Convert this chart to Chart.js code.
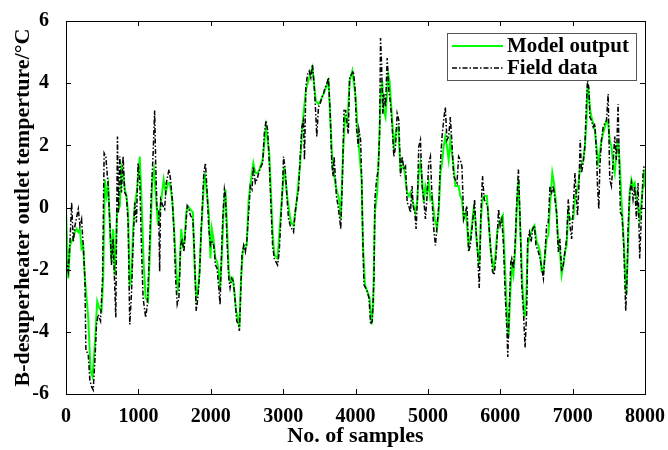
<!DOCTYPE html>
<html>
<head>
<meta charset="utf-8">
<script src="https://cdn.jsdelivr.net/npm/chart.js@4.4.1/dist/chart.umd.min.js"></script>
<style>
  html, body { margin:0; padding:0; background:#fff; }
  #wrap { width:668px; height:450px; position:relative; }
</style>
</head>
<body>
<div id="wrap"><canvas id="chart" width="668" height="450"></canvas></div>
<script>
  // samples / values
  const fieldX = [0,32,55,78,101,124,170,192,215,238,261,275,307,330,353,376,399,422,445,477,505,527,550,583,606,628,651,688,711,725,743,766,789,812,835,858,881,904,927,950,973,996,1019,1042,1065,1101,1124,1147,1179,1202,1225,1239,1257,1280,1294,
    1308,1340,1363,1386,1423,1445,1468,1491,1514,1537,1560,1583,1606,1629,1652,1675,1698,1721,1753,1776,1799,1822,1845,1868,1882,1904,1927,1950,1973,1996,2019,2042,2065,2088,2111,2129,2143,2166,2189,2203,2226,2249,2267,2290,2313,2341,2359,2382,2396,2414,2432,2455,2478,2497,2524,2547,2570,2588,2616,2639,2662,
    2694,2717,2740,2763,2786,2809,2832,2855,2878,2901,2923,2946,2969,2992,3006,3029,3052,3075,3098,3121,3144,3167,3190,3213,3236,3259,3281,3295,3314,3337,3360,3383,3405,3428,3451,3465,3488,3511,3534,3557,3580,3603,3626,3649,3672,3690,3704,3718,3736,3759,3782,3796,3819,3841,3864,3887,3901,3919,3947,3970,3993,4016,4039,
    4048,4071,4085,4103,4117,4140,4163,4186,4209,4232,4255,4268,4291,4314,4333,4346,4360,4378,4392,4415,4438,4461,4484,4507,4530,4553,4576,4599,4622,4645,4668,4691,4714,4737,4759,4782,4796,4819,4837,4856,4874,4897,4920,4943,4966,4989,5012,5035,5058,5081,5104,5127,5150,5173,5196,5218,5241,5264,5287,5310,5333,5356,5379,5402,
    5425,5448,5471,5494,5517,5540,5563,5586,5609,5632,5645,5664,5687,5710,5733,5755,5778,5801,5824,5847,5870,5893,5916,5939,5962,5976,5999,6022,6045,6068,6091,6104,6123,6146,6159,6182,6205,6228,6251,6274,6297,6320,6343,6366,6380,6403,6426,6449,6472,6494,6527,6550,6573,6596,6619,6641,6664,6687,6710,6733,6756,6779,
    6802,6825,6848,6871,6894,6917,6940,6963,6986,7009,7032,7054,7068,7087,7105,7123,7146,7169,7192,7206,7224,7238,7261,7284,7307,7330,7344,7362,7376,7399,7422,7445,7468,7491,7513,7536,7559,7582,7605,7628,7642,7660,7683,7706,7720,7734,7752,7766,7789,7812,7835,7858,7881,7904,7927,7950,7973,7986];
  const fieldY = [-1.64,-2.06,-1.11,0.16,-1.11,-0.58,-0.05,-0.58,-0.37,-1.22,-2.28,-4.60,-4.71,-5.56,-5.77,-5.87,-4.92,-3.76,-3.44,-3.65,-2.28,1.75,1.64,0.69,-0.48,-1.85,-1.01,-3.54,2.28,-0.16,1.64,0.48,1.64,0.48,0.37,-0.48,-3.76,-2.80,-1.22,0.16,-0.48,1.43,0.90,-1.22,-2.91,-3.54,-3.12,-1.75,0.48,1.64,3.12,1.43,-0.05,-0.05,-2.06,
    0.26,0.05,-0.05,0.79,1.22,0.90,0.26,-0.69,-2.28,-3.12,-2.91,-1.22,-1.01,-1.43,-0.69,0.05,-0.05,-0.26,-0.37,-1.53,-3.33,-2.91,-2.17,-0.69,-0.05,1.11,1.43,0.48,-0.69,-1.22,-1.11,-1.22,-1.85,-1.96,-2.59,-3.12,-1.85,-0.37,0.58,0.37,-1.11,-2.28,-2.59,-2.28,-2.38,-3.12,-3.65,-3.76,-3.97,-2.70,-1.53,-1.22,-1.43,-1.11,-0.16,0.69,0.58,1.32,0.79,0.90,1.11,
    1.32,1.43,2.38,2.80,2.49,1.43,0.05,-1.22,-1.64,-1.75,-1.85,-1.43,-0.37,0.69,1.64,1.22,0.37,-0.37,-0.58,-0.69,-0.79,-0.16,0.26,0.58,1.64,2.59,2.80,1.53,3.86,4.29,4.39,4.18,4.60,3.97,3.02,2.28,3.23,3.33,3.54,3.65,3.86,3.97,4.18,3.12,1.43,1.01,1.64,1.11,0.37,0.05,-0.37,-0.69,0.90,3.12,3.12,2.59,2.38,4.18,4.29,4.39,3.86,2.49,1.96,
    2.49,2.17,0.90,-1.22,-2.49,-2.59,-2.70,-2.91,-3.76,-3.65,-2.28,0.26,0.90,1.22,2.38,5.45,4.60,3.02,3.65,3.23,4.81,3.76,3.33,2.59,1.64,1.96,3.02,2.80,1.01,1.64,1.22,1.32,0.16,0.05,-0.16,0.69,0.05,-0.16,-0.69,0.26,1.96,2.17,0.69,0.26,-0.37,0.37,1.43,1.64,0.26,-0.69,-1.22,-0.58,0.05,1.43,2.28,2.80,3.23,2.17,2.28,2.91,2.06,1.01,0.90,0.79,
    1.64,1.53,1.32,-0.37,-0.16,0.05,-1.43,-1.22,-0.69,-0.16,0.26,-0.69,-1.43,-2.59,-0.16,1.01,0.26,0.16,0.05,-0.69,-1.43,-2.06,-2.17,-1.64,-0.79,-0.05,-0.58,-0.37,-1.22,-2.80,-3.86,-4.81,-3.33,-1.75,-1.64,-1.96,-1.22,0.16,1.22,-0.37,-2.49,-3.33,-4.50,-3.33,-1.01,-0.79,-1.11,-0.69,-0.58,-1.22,-1.43,-1.64,-1.96,-2.28,-1.43,-0.58,-0.48,0.69,0.48,0.69,0.26,-0.16,
    -1.43,-1.01,-2.06,-1.85,-1.43,-1.01,0.26,-0.58,-1.01,0.05,1.11,0.26,-0.26,0.69,2.17,1.11,1.43,1.96,3.44,4.07,3.86,2.91,2.80,2.59,2.70,1.75,0.69,-0.05,1.32,2.17,2.59,2.70,2.80,3.65,0.90,0.69,1.43,2.28,1.53,3.33,1.75,-0.16,-0.26,-1.22,-2.28,-3.33,-2.28,-0.69,0.48,0.79,0.26,0.69,-0.37,0.79,-1.64,-0.26,1.11,1.32];

  const modelX = [0,32,55,92,124,147,170,192,215,238,261,307,339,367,399,431,459,491,514,537,560,583,606,628,651,674,706,743,766,789,812,835,858,881,904,927,950,982,1019,1042,1074,1101,1133,1156,1193,1216,1248,1271,1294,
    1317,1349,1377,1409,1432,1468,1501,1524,1546,1569,1592,1615,1638,1661,1684,1716,1753,1776,1799,1822,1845,1868,1891,1914,1937,1973,1996,2015,2038,2065,2088,2111,2129,2152,2180,2203,2226,2249,2272,2304,2327,2350,2373,2396,2419,2442,2464,2497,2524,2556,2588,2616,2648,
    2671,2717,2763,2809,2855,2878,2923,2969,3015,3061,3107,3144,3190,3236,3268,3314,3360,3405,3451,3488,3520,3557,3603,3626,3649,3681,3727,3773,3796,3828,3855,3887,3919,3956,4002,4039,
    4048,4085,4103,4131,4163,4195,4222,4245,4268,4300,4323,4346,4369,4392,4415,4452,4470,4507,4530,4562,4590,4622,4668,4714,4737,4759,4782,4805,4828,4851,4874,4897,4920,4943,4966,4989,5012,5035,5058,5094,5127,5150,5173,5196,5218,5241,5264,5287,5310,5333,5356,5379,
    5425,5448,5471,5494,5526,5563,5599,5632,5655,5678,5710,5733,5755,5783,5815,5838,5870,5907,5930,5962,5985,6013,6036,6068,6091,6114,6136,6159,6182,6205,6228,6251,6283,6306,6334,6357,6380,6412,6444,6472,6504,6527,6550,6573,6596,6619,6641,6664,6687,6719,6742,6765,
    6802,6825,6848,6871,6894,6917,6940,6963,7009,7032,7054,7077,7100,7146,7169,7192,7206,7224,7243,7261,7284,7307,7330,7353,7376,7399,7422,7445,7468,7491,7513,7536,7559,7582,7605,7628,7651,7674,7697,7720,7743,7766,7789,7812,7835,7858,7881,7904,7927,7950,7973,7986];
  const modelY = [-0.05,-2.28,-1.22,-1.01,-0.79,-0.69,-0.79,-0.69,-1.32,-1.22,-2.28,-3.54,-5.24,-5.45,-4.39,-3.02,-3.23,-3.33,-2.28,0.90,0.37,0.69,-0.58,-1.75,-0.69,-2.17,-0.16,0.05,1.32,1.11,0.58,0.37,-0.16,-2.49,-2.28,-0.69,0.05,0.58,1.64,0.37,-1.85,-2.91,-3.02,-1.64,0.90,1.22,0.16,-0.58,-0.16,
    0.26,0.90,0.48,0.79,0.79,0.26,-1.01,-2.06,-2.59,-2.17,-0.69,-1.22,-1.11,-0.16,0.05,-0.05,-0.16,-1.85,-2.91,-2.70,-2.06,-0.79,0.16,1.11,0.69,-0.16,-1.64,-0.69,-1.01,-1.64,-1.75,-2.06,-2.59,-1.64,0.05,0.58,-0.69,-2.06,-2.38,-2.28,-2.70,-3.33,-3.54,-3.86,-2.28,-1.43,-1.22,-1.22,0.26,0.90,1.43,1.11,1.11,
    1.22,1.53,2.59,1.75,-0.79,-1.53,-1.64,-0.16,1.32,0.26,-0.48,-0.58,0.26,1.43,2.70,3.76,4.18,4.50,3.44,3.33,3.44,3.65,3.92,4.07,3.02,1.43,0.69,0.26,-0.37,1.75,2.91,2.70,4.07,4.39,3.54,2.17,
    2.17,0.90,-1.22,-2.49,-2.70,-2.91,-3.76,-3.12,-0.16,0.48,1.75,3.54,4.07,3.12,2.91,4.29,4.07,2.80,1.96,2.49,2.59,1.22,1.32,0.48,0.37,0.48,0.26,0.05,-0.16,0.16,1.11,1.43,0.90,0.16,0.69,0.48,0.79,0.26,0.37,-0.37,-0.69,-0.16,1.11,1.43,1.96,2.28,1.96,1.53,2.17,1.75,1.32,0.69,
    0.69,0.37,0.26,-0.37,-0.16,-1.22,-0.79,-0.05,-0.37,-1.22,-1.85,-0.37,0.26,0.37,0.37,-0.37,-1.43,-1.96,-1.64,-0.69,-0.48,-0.37,-0.26,-2.06,-3.33,-4.18,-2.91,-1.85,-2.17,-1.43,-0.05,0.90,-1.01,-2.49,-3.54,-3.12,-1.22,-0.90,-0.69,-0.58,-1.11,-1.22,-1.43,-2.06,-2.06,-1.53,-1.01,-0.90,0.05,1.11,0.79,0.26,
    -1.11,-1.43,-2.17,-1.85,-1.43,-1.22,-0.16,-0.37,-0.37,0.26,0.48,0.69,1.22,1.53,1.96,2.80,3.97,3.65,3.12,2.91,2.70,2.49,1.96,1.43,1.75,2.17,2.38,2.59,2.80,2.70,2.17,1.96,1.43,1.11,1.75,2.17,1.43,0.26,-0.69,-1.75,-2.80,-1.22,0.48,0.90,0.69,0.79,0.26,0.05,-0.37,0.16,0.69,1.22];

  const xTicks = [0,1000,2000,3000,4000,5000,6000,7000,8000];
  const yTicks = [-6,-4,-2,0,2,4,6];
  const seriesNames = ['Model output','Field data'];

  const serif = "'Liberation Serif', 'Times New Roman', serif";

  const framePlugin = {
    id:'frame',
    afterDatasetsDraw(chart){
      const {ctx, chartArea:a, scales:{x, y}} = chart;
      ctx.save();
      ctx.strokeStyle = '#000';
      ctx.lineWidth = 1;
      ctx.setLineDash([]);
      ctx.strokeRect(a.left + 0.5, a.top + 0.5, a.right - a.left, a.bottom - a.top);
      ctx.beginPath();
      const t = 5;
      xTicks.forEach(v => {
        const px = Math.round(x.getPixelForValue(v)) + 0.5;
        ctx.moveTo(px, a.bottom); ctx.lineTo(px, a.bottom - t);
        ctx.moveTo(px, a.top); ctx.lineTo(px, a.top + t);
      });
      yTicks.forEach(v => {
        const py = Math.round(y.getPixelForValue(v)) + 0.5;
        ctx.moveTo(a.left, py); ctx.lineTo(a.left + t, py);
        ctx.moveTo(a.right, py); ctx.lineTo(a.right - t, py);
      });
      ctx.stroke();

      // legend box, top right inside the axes
      const ds = chart.data.datasets;
      const bx = 447, by = 33, bw = 189, bh = 47;
      ctx.fillStyle = '#fff';
      ctx.fillRect(bx, by, bw, bh);
      ctx.strokeStyle = '#555';
      ctx.strokeRect(bx + 0.5, by + 0.5, bw, bh);
      const rows = [ds[1], ds[0]];
      rows.forEach((d, i) => {
        const ly = by + 13 + i * 22;
        ctx.beginPath();
        ctx.strokeStyle = d.borderColor;
        ctx.lineWidth = d.borderWidth;
        ctx.setLineDash(d.borderDash || []);
        ctx.moveTo(bx + 5, ly); ctx.lineTo(bx + 56, ly);
        ctx.stroke();
        ctx.setLineDash([]);
        ctx.fillStyle = '#000';
        ctx.font = "bold 21px " + serif;
        ctx.textBaseline = 'middle';
        ctx.fillText(d.label, bx + 60, ly + 1);
      });
      ctx.restore();
    }
  };

  new Chart(document.getElementById('chart'), {
    type:'line',
    data:{
      datasets:[
        {label:seriesNames[1], data:fieldX.map((v,i)=>({x:v, y:fieldY[i]})), borderColor:'#000', borderWidth:1.5, borderDash:[5,2,1.5,2], pointRadius:0, tension:0, order:0},
        {label:seriesNames[0], data:modelX.map((v,i)=>({x:v, y:modelY[i]})), borderColor:'#00ff00', borderWidth:2, pointRadius:0, tension:0, order:1}
      ]
    },
    options:{
      responsive:false, animation:false, maintainAspectRatio:false,
      layout:{padding:{top:16, right:21, left:0, bottom:0}},
      plugins:{legend:{display:false}, tooltip:{enabled:false}},
      scales:{
        x:{type:'linear', min:0, max:8000,
          afterBuildTicks(s){ s.ticks = xTicks.map(v=>({value:v})); },
          afterFit(s){ s.height = 56; },
          grid:{display:false}, border:{display:false},
          ticks:{color:'#000', font:{family:serif, size:20, weight:'bold'}, padding:3, maxRotation:0, callback:v=>String(v)},
          title:{display:true, text:'No. of samples', color:'#000', font:{family:serif, size:22, weight:'bold'}, padding:{top:0, bottom:0}}
        },
        y:{type:'linear', min:-6, max:6,
          afterBuildTicks(s){ s.ticks = yTicks.map(v=>({value:v})); },
          afterFit(s){ s.width = 66; },
          grid:{display:false}, border:{display:false},
          ticks:{color:'#000', font:{family:serif, size:20, weight:'bold'}, padding:9, callback:v=>String(v)},
          title:{display:true, text:'B-desuperheater outlet temperture/°C', color:'#000', font:{family:serif, size:22, weight:'bold'}, padding:{top:10, bottom:0}}
        }
      }
    },
    plugins:[framePlugin]
  });
</script>
</body>
</html>
